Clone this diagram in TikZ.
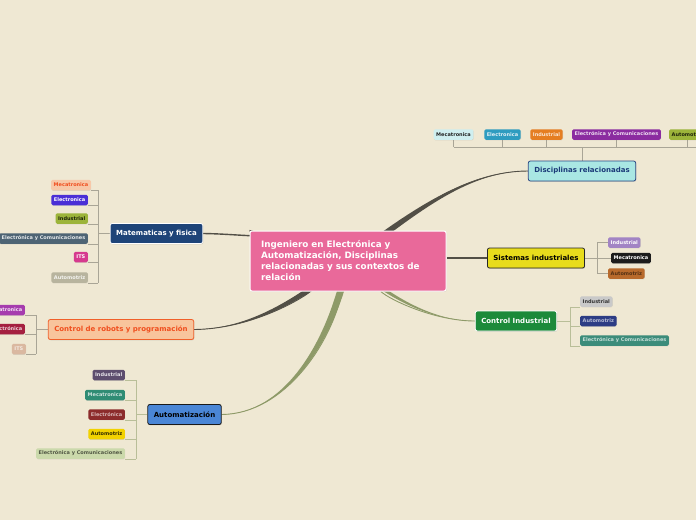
\documentclass[tikz,border=0pt]{standalone}
\usepackage{fontspec}
\setmainfont{DejaVu Sans}
\usetikzlibrary{calc,shadows}
\pgfdeclarelayer{fond}
\pgfdeclarelayer{liens}
\pgfsetlayers{fond,liens,main}
\definecolor{papier}{HTML}{EFE8D3}
\definecolor{lienfonce}{HTML}{524F46}
\definecolor{lienvert}{HTML}{8E9A68}
\definecolor{brin}{HTML}{A9A596}
\definecolor{brinvert}{HTML}{B9BE98}
% couleurs des noeuds
\definecolor{rose}{HTML}{E9699A}
\definecolor{discF}{HTML}{A9E7E3}
\definecolor{discB}{HTML}{2B4A86}
\definecolor{discT}{HTML}{1B3A78}
\definecolor{sistF}{HTML}{E8DC1C}
\definecolor{ctrlF}{HTML}{1C8A3A}
\definecolor{matF}{HTML}{1E4478}
\definecolor{robF}{HTML}{F8C49C}
\definecolor{robB}{HTML}{F0602A}
\definecolor{robT}{HTML}{F04E1E}
\definecolor{autoF}{HTML}{4A86D6}
\definecolor{cyanclair}{HTML}{CFEFF0}
\definecolor{bleucanard}{HTML}{2E9CC0}
\definecolor{orange}{HTML}{E57E22}
\definecolor{violet}{HTML}{8B2CA0}
\definecolor{olive}{HTML}{9CB43A}
\definecolor{peche}{HTML}{F7C8A8}
\definecolor{indigo}{HTML}{4A2FD6}
\definecolor{ardoise}{HTML}{4E6474}
\definecolor{magenta2}{HTML}{D63A8E}
\definecolor{grege}{HTML}{B8B49E}
\definecolor{prune}{HTML}{A63CAE}
\definecolor{bordeaux}{HTML}{A52040}
\definecolor{tan}{HTML}{DAB8A0}
\definecolor{aubergine}{HTML}{5E4E6E}
\definecolor{jade}{HTML}{2F8C74}
\definecolor{brique}{HTML}{8C2C2C}
\definecolor{jaune}{HTML}{F2D200}
\definecolor{amande}{HTML}{CBD9AB}
\definecolor{lavande}{HTML}{A284C4}
\definecolor{noir}{HTML}{1C1C1C}
\definecolor{cuivre}{HTML}{B86A2C}
\definecolor{gris}{HTML}{C9C9C9}
\definecolor{marine}{HTML}{2C3C84}
\definecolor{turquoise}{HTML}{3C8C7A}
\tikzset{
  racine/.style={fill=rose, draw=white, line width=1pt, rounded corners=2pt,
    text=white, align=left, text width=174pt, inner xsep=11pt, minimum height=60pt,
    font=\bfseries\fontsize{8.8}{11}\selectfont,
    drop shadow={shadow xshift=0.6pt, shadow yshift=-0.8pt, opacity=0.2}},
  branche/.style={rounded corners=2pt, line width=0.8pt, minimum height=20pt,
    inner xsep=6pt, font=\bfseries\fontsize{7}{8}\selectfont,
    drop shadow={shadow xshift=0.6pt, shadow yshift=-0.8pt, opacity=0.25}},
  feuille/.style={rounded corners=1.5pt, minimum height=10.5pt, inner xsep=2.5pt,
    inner ysep=0pt, font=\bfseries\fontsize{5}{6}\selectfont,
    drop shadow={shadow xshift=0.4pt, shadow yshift=-0.6pt, opacity=0.2}},
  brin/.style={draw=brin, line width=0.9pt},
  brinv/.style={draw=brinvert, line width=0.9pt},
}
% branche courbe effilee : depart, controle 1, controle 2, arrivee, demi-epaisseur, couleur
\newcommand{\courbe}[6]{%
  \fill[#6] ($(#1)+(#5)$) .. controls ($(#2)+(#5)$) and (#3) .. (#4)
    .. controls (#3) and ($(#2)-(#5)$) .. ($(#1)-(#5)$) -- cycle;
  \draw[#6, line width=0.9pt] (#1) .. controls (#2) and (#3) .. (#4);}
\begin{document}
\begin{tikzpicture}[x=1pt,y=-1pt]
  \useasboundingbox (0,0) rectangle (696,520);
  \begin{pgfonlayer}{fond}
    \fill[papier] (0,0) rectangle (696,520);
  \end{pgfonlayer}
  % Noeud central
  \node[racine] (root) at (348,261) {Ingeniero en Electrónica y\\Automatización, Disciplinas\\relacionadas y sus contextos de\\relación};
  % Branches principales
  \node[branche, fill=discF, draw=discB, text=discT] (disc) at (582,171) {Disciplinas relacionadas};
  \node[branche, fill=sistF, draw=black!85, text=black] (sist) at (536,258) {Sistemas industriales};
  \node[branche, fill=ctrlF, draw=white, text=white] (ctrl) at (516,321) {Control Industrial};
  \node[branche, fill=matF, draw=white, text=white] (mat) at (156.5,233.5) {Matematicas y fisica};
  \node[branche, fill=robF, draw=robB, text=robT] (rob) at (121,329.5) {Control de robots y programación};
  \node[branche, fill=autoF, draw=black!90, text=black] (auto) at (184.5,414.5) {Automatización};
  % Disciplinas relacionadas
  \node[feuille, fill=cyanclair, text=black!85] (d1) at (453.5,134.5) {Mecatronica};
  \node[feuille, fill=bleucanard, text=white!85!bleucanard] (d2) at (502.5,134.5) {Electronica};
  \node[feuille, fill=orange, text=white!80!orange] (d3) at (546.5,134.5) {Industrial};
  \node[feuille, fill=violet, text=white!85!violet] (d4) at (616.5,134.5) {Electrónica y Comunicaciones};
  \node[feuille, fill=olive, text=black!80!olive, anchor=west] (d5) at (669,134.5) {Automotriz};
  % Matematicas y fisica
  \node[feuille, fill=peche, text=robT, anchor=east] (m1) at (91,185) {Mecatronica};
  \node[feuille, fill=indigo, text=white, anchor=east] (m2) at (88,200) {Electronica};
  \node[feuille, fill=olive, text=black!80!olive, anchor=east] (m3) at (88,218.5) {Industrial};
  \node[feuille, fill=ardoise, text=white!85!ardoise, anchor=east] (m4) at (88,238.5) {Electrónica y Comunicaciones};
  \node[feuille, fill=magenta2, text=white, anchor=east] (m5) at (88,257) {ITS};
  \node[feuille, fill=grege, text=white!85!grege, anchor=east] (m6) at (88,277.5) {Automotriz};
  % Control de robots
  \node[feuille, fill=prune, text=white!85!prune, anchor=east] (r1) at (25,310) {Mecatronica};
  \node[feuille, fill=bordeaux, text=white!80!bordeaux, anchor=east] (r2) at (25,329) {Electrónica};
  \node[feuille, fill=tan, text=white!70!tan, anchor=east] (r3) at (26,349) {ITS};
  % Automatizacion
  \node[feuille, fill=aubergine, text=white!85!aubergine, anchor=east] (a1) at (125,375) {Industrial};
  \node[feuille, fill=jade, text=white!75!jade, anchor=east] (a2) at (125,395) {Mecatronica};
  \node[feuille, fill=brique, text=white!65!brique, anchor=east] (a3) at (125,414.5) {Electrónica};
  \node[feuille, fill=jaune, text=black!80!jaune, anchor=east] (a4) at (125,434) {Automotriz};
  \node[feuille, fill=amande, text=black!60!amande, anchor=east] (a5) at (125,453.5) {Electrónica y Comunicaciones};
  % Sistemas industriales
  \node[feuille, fill=lavande, text=white, anchor=west] (s1) at (608,242.5) {Industrial};
  \node[feuille, fill=noir, text=white, anchor=west] (s2) at (611,258) {Mecatronica};
  \node[feuille, fill=cuivre, text=black!55!cuivre, anchor=west] (s3) at (608,273.5) {Automotriz};
  % Control Industrial
  \node[feuille, fill=gris, text=black!80, anchor=west] (c1) at (580,301.5) {Industrial};
  \node[feuille, fill=marine, text=white!65!marine, anchor=west] (c2) at (580,321) {Automotriz};
  \node[feuille, fill=turquoise, text=white!70!turquoise, anchor=west] (c3) at (580,340.5) {Electrónica y Comunicaciones};
  % Reperes des tiges
  \coordinate (dy) at (0,147);
  \coordinate (dfin) at (700,147);
  \coordinate (mx) at (98,0);
  \coordinate (rx) at (36,0);
  \coordinate (ax) at (136,0);
  \coordinate (sx) at (597,0);
  \coordinate (cx) at (570,0);
  \begin{pgfonlayer}{liens}
    % Branches depuis le centre
    \courbe{root}{410,215}{465,171}{disc.west}{2.0,2.6}{lienfonce}
    \courbe{root}{300,300}{250,329}{rob.east}{2.0,2.4}{lienfonce}
    \courbe{root}{332,342}{285,414}{auto.east}{3.5,0.8}{lienvert}
    \courbe{root}{390,300}{435,321}{ctrl.west}{-1.4,1.5}{lienvert}
    \draw[lienfonce, line width=1.4pt] (root) .. controls (280,240) and (240,234) .. (mat.east);
    \draw[lienfonce, line width=1.2pt] (root.east |- sist) -- (sist.west);
    % Disciplinas relacionadas
    \foreach \n in {d1,d2,d3,d4,d5} \draw[brin] (\n.south) -- (\n.south |- dy);
    \draw[brin] (d1.south |- dy) -- (dfin);
    \draw[brin] (disc.north) -- (disc.north |- dy);
    % Matematicas y fisica
    \foreach \n in {m1,m2,m3,m4,m5,m6} \draw[brin] (\n.south east) -- (\n.south east -| mx);
    \draw[brin] (m1.south east -| mx) -- (m6.south east -| mx);
    \draw[brin] (mat.west) -- (mat.west -| mx);
    % Control de robots
    \foreach \n in {r1,r2,r3} \draw[brin] (\n.south east) -- (\n.south east -| rx);
    \draw[brin] (r1.south east -| rx) -- (r3.south east -| rx);
    \draw[brin] (rob.west) -- (rob.west -| rx);
    % Automatizacion
    \foreach \n in {a1,a2,a3,a4,a5} \draw[brinv] (\n.south east) -- (\n.south east -| ax);
    \draw[brinv] (a1.south east -| ax) -- (a5.south east -| ax);
    \draw[brinv] (auto.west) -- (auto.west -| ax);
    % Sistemas industriales
    \foreach \n in {s1,s2,s3} \draw[brin] (\n.west) -- (\n.west -| sx);
    \draw[brin] (s1.west -| sx) -- (s3.west -| sx);
    \draw[brin] (sist.east) -- (sist.east -| sx);
    % Control Industrial
    \foreach \n in {c1,c2,c3} \draw[brinv] (\n.south west) -- (\n.south west -| cx);
    \draw[brinv] (c1.south west -| cx) -- (c3.south west -| cx);
    \draw[brinv] (ctrl.east) -- (ctrl.east -| cx);
  \end{pgfonlayer}
\end{tikzpicture}
\end{document}
